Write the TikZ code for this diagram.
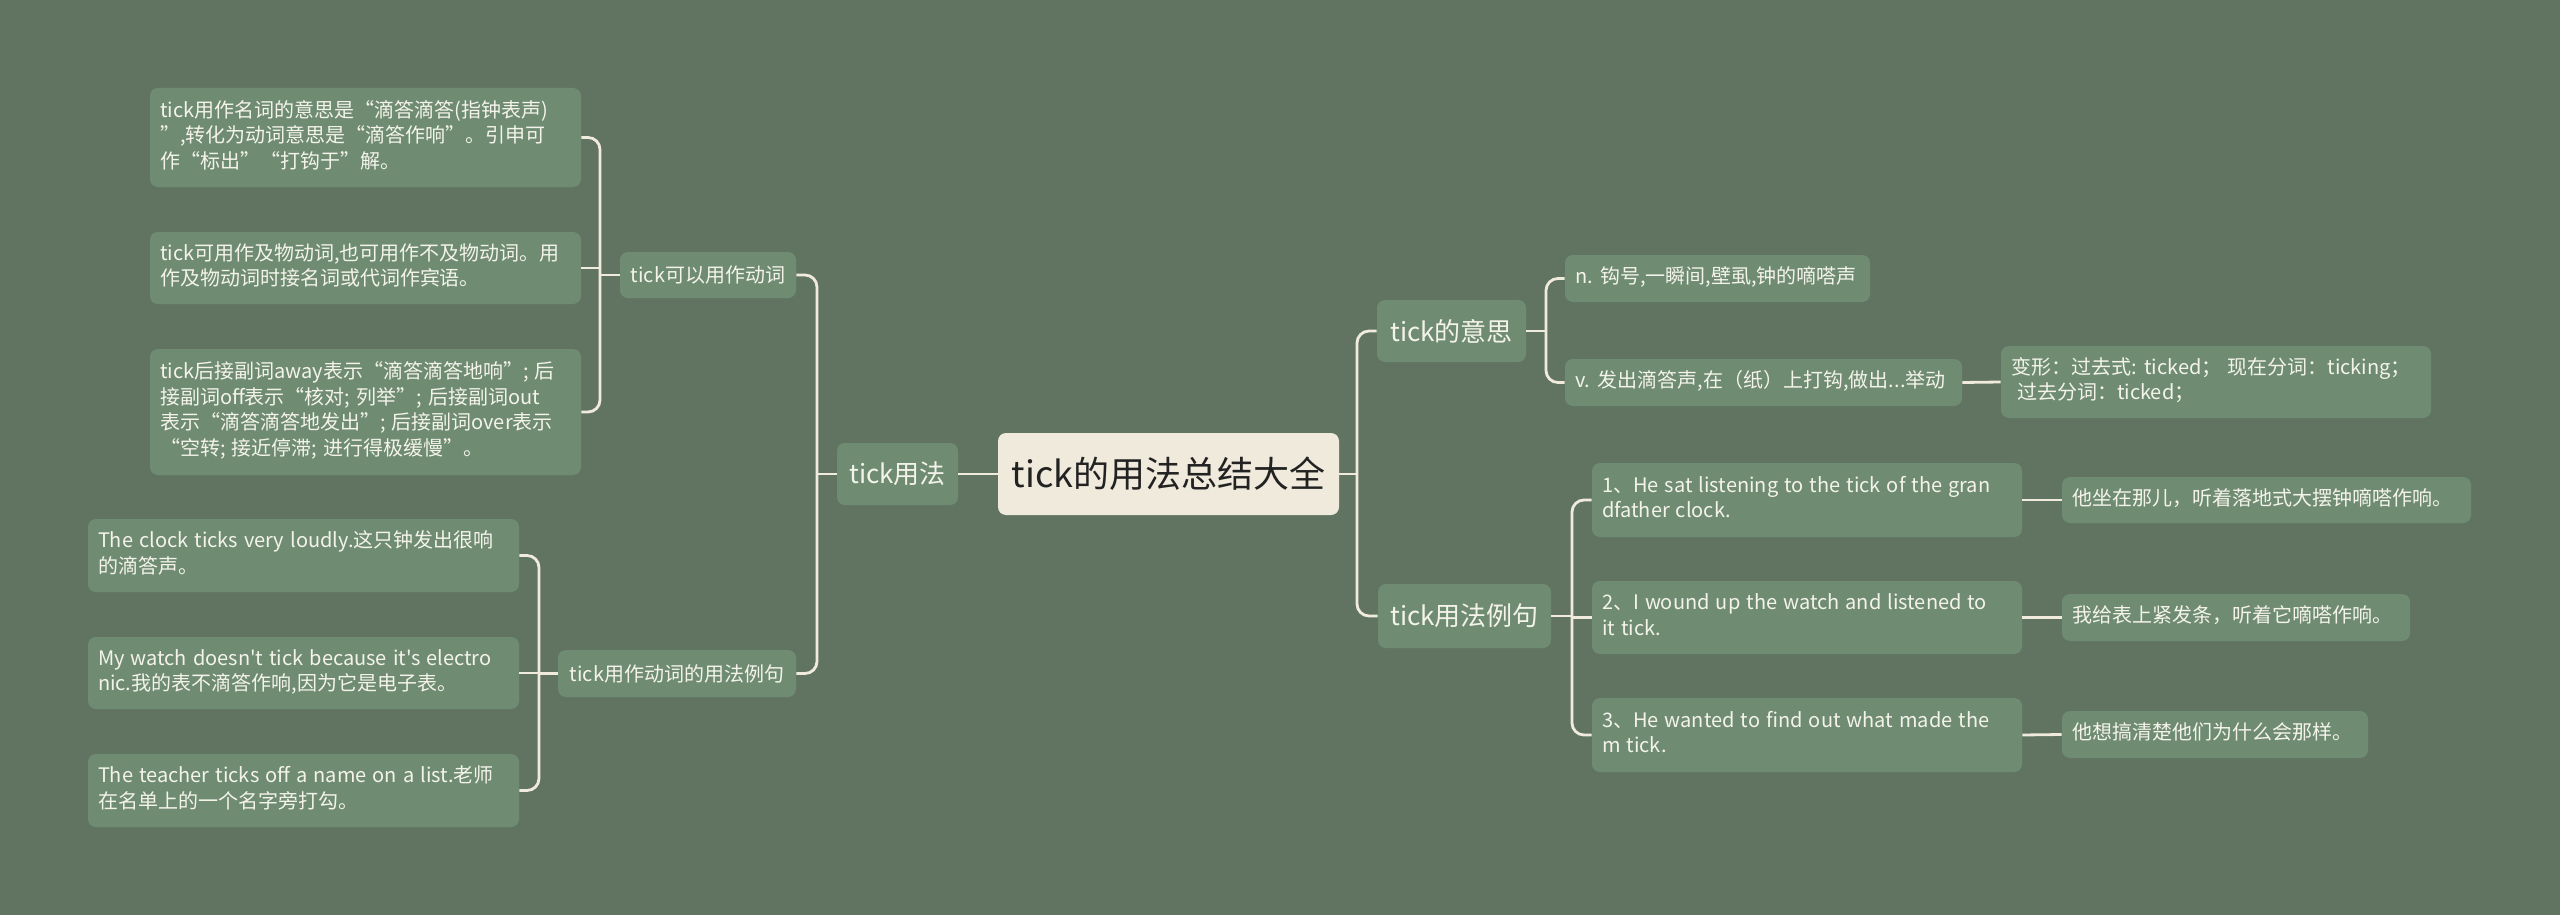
\documentclass[tikz,border=0pt]{standalone}
\usepackage{fontspec}
\newfontfamily\cjk{Noto Sans CJK SC}[WordSpace=1.35]
\definecolor{bgc}{HTML}{617462}
\definecolor{nodefill}{HTML}{6F8C73}
\definecolor{nodetext}{HTML}{F4F3EA}
\definecolor{rootfill}{HTML}{EFEADB}
\definecolor{roottext}{HTML}{222222}
\definecolor{linec}{HTML}{F0EBDC}
\newcommand\mmnode[7]{%
 \pgfmathsetmacro\mmw{(#5-#3)*0.5}%
 \pgfmathsetmacro\mmh{(#6-#4)*0.5}%
 \pgfmathsetmacro\mmtw{(#5-#3)*0.5-10}%
 \node[#2, minimum width=\mmw pt, minimum height=\mmh pt] (#1) at ({(#3+#5)/2},{(#4+#6)/2}) {\makebox[\mmtw pt][l]{\begin{tabular}{@{}l@{}}#7\end{tabular}}};}
\newcommand\mmnodec[7]{%
 \pgfmathsetmacro\mmw{(#5-#3)*0.5}%
 \pgfmathsetmacro\mmh{(#6-#4)*0.5}%
 \pgfmathsetmacro\mmtw{(#5-#3)*0.5-10}%
 \node[#2, minimum width=\mmw pt, minimum height=\mmh pt] (#1) at ({(#3+#5)/2},{(#4+#6)/2}) {\makebox[\mmtw pt][c]{#7}};}
\begin{document}
\begin{tikzpicture}[x={(0.5pt,0)},y={(0,-0.5pt)},
  base/.style={fill=nodefill, rounded corners=4pt, text=nodetext, inner xsep=5pt, inner ysep=1pt},
  leaf/.style={base, font=\cjk\fontsize{10}{12.8}\selectfont},
  lvl/.style={base, font=\cjk\fontsize{13}{15}\selectfont},
  rootn/.style={fill=rootfill, rounded corners=4pt, text=roottext, inner xsep=5pt, font=\cjk\fontsize{18}{20}\selectfont},
  conn/.style={draw=linec, line width=1.4pt, rounded corners=6pt}]
\fill[bgc] (0,0) rectangle (2560,915);
\useasboundingbox (0,0) rectangle (2560,915);
% nodes
\mmnodec{root}{rootn}{998}{433}{1339}{515}{tick的用法总结大全}
\mmnodec{tu}{lvl}{837}{443}{958}{505}{tick用法}
\mmnodec{k1}{leaf}{620}{252}{796}{298}{tick可以用作动词}
\mmnodec{k2}{leaf}{558}{650}{796}{697}{tick用作动词的用法例句}
\mmnode{b1}{leaf}{150}{88}{581}{187}{tick用作名词的意思是“滴答滴答(指钟表声)\\”,转化为动词意思是“滴答作响”。引申可\\作“标出”“打钩于”解。}
\mmnode{b2}{leaf}{150}{232}{581}{304}{tick可用作及物动词,也可用作不及物动词。用\\作及物动词时接名词或代词作宾语。}
\mmnode{b3}{leaf}{150}{349}{581}{475}{tick后接副词away表示“滴答滴答地响”; 后\\接副词off表示“核对; 列举”; 后接副词out\\表示“滴答滴答地发出”; 后接副词over表示\\“空转; 接近停滞; 进行得极缓慢”。}
\mmnode{e1}{leaf}{88}{519}{519}{592}{The clock ticks very loudly.这只钟发出很响\\的滴答声。}
\mmnode{e2}{leaf}{88}{637}{519}{709}{My watch doesn't tick because it's electro\\nic.我的表不滴答作响,因为它是电子表。}
\mmnode{e3}{leaf}{88}{754}{519}{827}{The teacher ticks off a name on a list.老师\\在名单上的一个名字旁打勾。}
\mmnodec{ym}{lvl}{1377}{300}{1526}{362}{tick的意思}
\mmnode{yn}{leaf}{1565}{255}{1870}{302}{n. 钩号,一瞬间,壁虱,钟的嘀嗒声}
\mmnode{yv}{leaf}{1565}{359}{1962}{406}{v. 发出滴答声,在（纸）上打钩,做出...举动}
\mmnode{bx}{leaf}{2001}{346}{2431}{418}{变形：过去式: ticked；\ 现在分词：ticking；\\\ 过去分词：ticked；}
\mmnodec{ls}{lvl}{1378}{584}{1551}{648}{tick用法例句}
\mmnode{s1}{leaf}{1592}{463}{2022}{537}{1、He sat listening to the tick of the gran\\dfather clock.}
\mmnode{s2}{leaf}{1592}{581}{2022}{654}{2、I wound up the watch and listened to\\it tick.}
\mmnode{s3}{leaf}{1592}{698}{2022}{772}{3、He wanted to find out what made the\\m tick.}
\mmnode{t1}{leaf}{2062}{477}{2471}{523}{他坐在那儿，听着落地式大摆钟嘀嗒作响。}
\mmnode{t2}{leaf}{2062}{594}{2410}{641}{我给表上紧发条，听着它嘀嗒作响。}
\mmnode{t3}{leaf}{2062}{711}{2368}{758}{他想搞清楚他们为什么会那样。}
% bar coordinates
\coordinate (bA) at (817,0);
\coordinate (bB) at (600,0);
\coordinate (bC) at (539,0);
\coordinate (bD) at (1357,0);
\coordinate (bE) at (1546,0);
\coordinate (bF) at (1572,0);
% connectors
\draw[conn] (root.west) -- (tu.east);
\draw[conn] (tu.west) -- (tu.west -| bA);
\draw[conn] (tu.west -| bA) |- (k1.east);
\draw[conn] (tu.west -| bA) |- (k2.east);
\draw[conn] (k1.west) -- (k1.west -| bB);
\draw[conn] (k1.west -| bB) |- (b1.east);
\draw[conn] (k1.west -| bB) |- (b3.east);
\draw[conn] (b2.east) -- (b2.east -| bB);
\draw[conn] (k2.west) -- (k2.west -| bC);
\draw[conn] (k2.west -| bC) |- (e1.east);
\draw[conn] (k2.west -| bC) |- (e3.east);
\draw[conn] (e2.east) -- (e2.east -| bC);
\draw[conn] (root.east) -- (root.east -| bD);
\draw[conn] (root.east -| bD) |- (ym.west);
\draw[conn] (root.east -| bD) |- (ls.west);
\draw[conn] (ym.east) -- (ym.east -| bE);
\draw[conn] (ym.east -| bE) |- (yn.west);
\draw[conn] (ym.east -| bE) |- (yv.west);
\draw[conn] (yv.east) -- (bx.west);
\draw[conn] (ls.east) -- (ls.east -| bF);
\draw[conn] (ls.east -| bF) |- (s1.west);
\draw[conn] (ls.east -| bF) |- (s3.west);
\draw[conn] (s2.west) -- (s2.west -| bF);
\draw[conn] (s1.east) -- (t1.west);
\draw[conn] (s2.east) -- (t2.west);
\draw[conn] (s3.east) -- (t3.west);
\end{tikzpicture}
\end{document}
